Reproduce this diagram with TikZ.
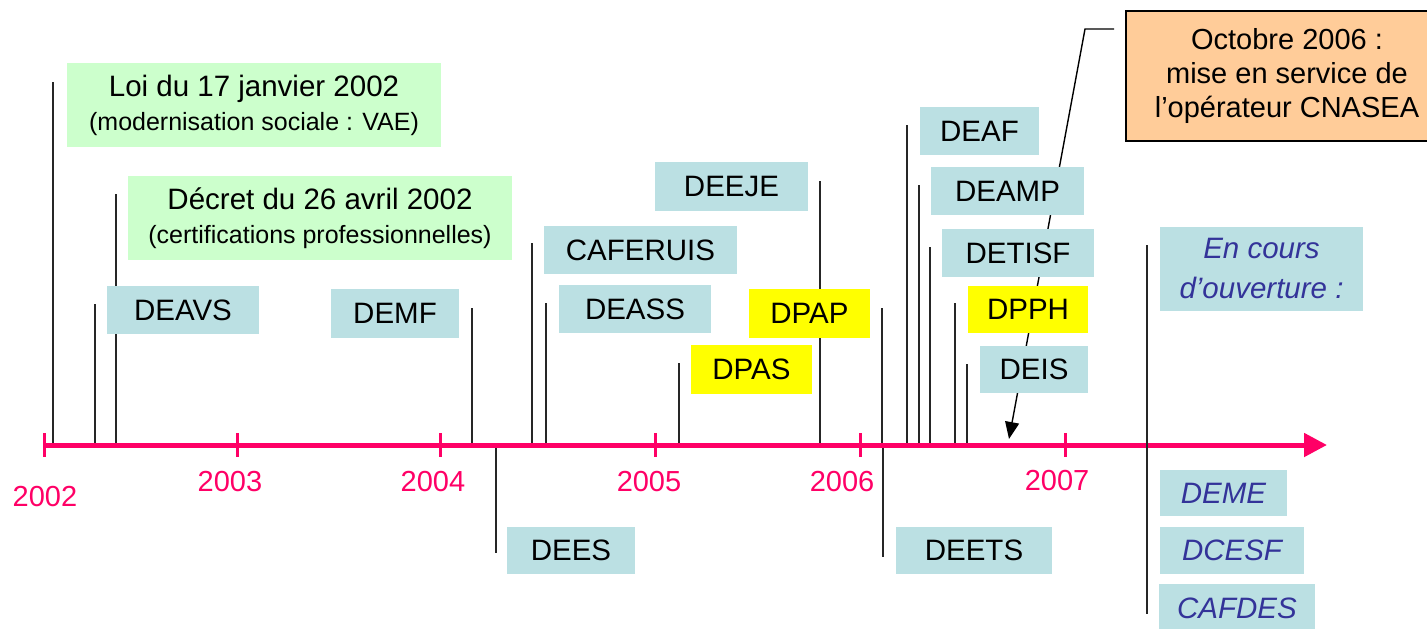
\documentclass[tikz,border=0pt]{standalone}
\usepackage{fontspec}
\setmainfont{Liberation Sans}
\usepackage{xcolor}
\usepackage{tikz}
\usetikzlibrary{arrows.meta}
\definecolor{axe}{RGB}{255,0,102}
\definecolor{bleu}{RGB}{187,224,227}
\definecolor{vert}{RGB}{204,255,204}
\definecolor{jaune}{RGB}{255,255,0}
\definecolor{peche}{RGB}{255,204,153}
\definecolor{encre}{RGB}{51,51,153}

\begin{document}
\begin{tikzpicture}[x=1pt, y=-1pt, font=\fontsize{29}{34}\selectfont,
  b/.style={rectangle, fill=bleu, inner sep=0pt, minimum height=48pt,
            align=center, font=\fontsize{29.5}{34}\selectfont},
  j/.style={b, fill=jaune},
  v/.style={b, fill=vert, minimum height=84pt},
  it/.style={b, text=encre, font=\fontsize{29.5}{34}\selectfont\itshape},
  an/.style={text=axe, font=\fontsize{29}{34}\selectfont},
  stem/.style={line width=1.4pt, black!85},
  ax/.style={line width=5pt, draw=axe, -{Triangle[length=23pt, width=23pt]}},
  a/.style={-{Triangle[length=17pt, width=14pt]}, line width=1.4pt}]
  \useasboundingbox (0,0) rectangle (1427,629);

  % date markers
  \draw[stem] (53,82) -- (53,443);
  \draw[stem] (95,304) -- (95,443);
  \draw[stem] (116,194) -- (116,443);
  \draw[stem] (472,308) -- (472,443);
  \draw[stem] (496,443) -- (496,553);
  \draw[stem] (532,243) -- (532,443);
  \draw[stem] (546,303) -- (546,443);
  \draw[stem] (679,363) -- (679,443);
  \draw[stem] (820,181) -- (820,443);
  \draw[stem] (882,308) -- (882,443);
  \draw[stem] (883,443) -- (883,557);
  \draw[stem] (907,125) -- (907,443);
  \draw[stem] (919,185) -- (919,443);
  \draw[stem] (930,247) -- (930,443);
  \draw[stem] (955,303) -- (955,443);
  \draw[stem] (967,364) -- (967,443);

  % callout
  \node[rectangle, draw=black, line width=1.5pt, fill=peche, align=center,
        minimum width=322pt, minimum height=130pt] (oct) at (1287,76)
        {Octobre 2006 :\\mise en service de\\l'opérateur CNASEA};
  \coordinate (c1) at (1114,29);
  \coordinate (c2) at (1085,29);
  \coordinate (pt) at (1009,439);
  \draw[a] (c1) -- (c2) -- (pt);

  % axis
  \draw[ax] (44,445) -- (1327,445);
  \foreach \x in {44,237,440,655,860,1065}
    \draw[axe, line width=3pt] (\x,433) -- (\x,457);
  \node[an] (y02) at (45,497) {2002};
  \node[an] (y03) at (230,482) {2003};
  \node[an] (y04) at (433,482) {2004};
  \node[an] (y05) at (649,482) {2005};
  \node[an] (y06) at (842,482) {2006};
  \node[an] (y07) at (1057,481) {2007};

  % texts
  \node[v, minimum width=374pt] (loi) at (254,105)
        {Loi du 17 janvier 2002\\{\fontsize{25}{28}\selectfont(modernisation sociale : VAE)}};
  \node[v, minimum width=384pt] (dec) at (320,218)
        {Décret du 26 avril 2002\\{\fontsize{25}{28}\selectfont(certifications professionnelles)}};
  \node[b, minimum width=152pt] (deavs) at (183,310) {DEAVS};
  \node[b, minimum width=128pt, minimum height=49pt] (demf) at (395,313.5) {DEMF};
  \node[b, minimum width=153pt, minimum height=49pt] (deeje) at (731.5,186.5) {DEEJE};
  \node[b, minimum width=193pt] (caferuis) at (640.5,250) {CAFERUIS};
  \node[b, minimum width=152pt] (deass) at (635,309) {DEASS};
  \node[j, minimum width=121pt, minimum height=49pt] (dpap) at (809.5,313.5) {DPAP};
  \node[j, minimum width=121pt, minimum height=49pt] (dpas) at (751.5,369.5) {DPAS};
  \node[b, minimum width=119pt] (deaf) at (979.5,131) {DEAF};
  \node[b, minimum width=153pt] (deamp) at (1007.5,191) {DEAMP};
  \node[b, minimum width=152pt] (detisf) at (1018,253) {DETISF};
  \node[j, minimum width=120pt, minimum height=47pt] (dpph) at (1028,309.5) {DPPH};
  \node[b, minimum width=108pt, minimum height=47pt] (deis) at (1034,369.5) {DEIS};
  \node[b, minimum width=128pt, minimum height=47pt] (dees) at (571,550.5) {DEES};
  \node[b, minimum width=156pt, minimum height=47pt] (deets) at (974,550.5) {DEETS};

  % en cours
  \draw[stem] (1147,245) -- (1147,614);
  \node[it, minimum width=203pt, minimum height=84pt] (ouv) at (1261.5,269)
        {En cours\\[6pt]d'ouverture :};
  \node[it, minimum width=127pt, minimum height=46pt] (deme) at (1223.5,493) {DEME};
  \node[it, minimum width=144pt, minimum height=47pt] (dcesf) at (1232,550.5) {DCESF};
  \node[it, minimum width=156pt] (cafdes) at (1237,608) {CAFDES};
\end{tikzpicture}
\end{document}
